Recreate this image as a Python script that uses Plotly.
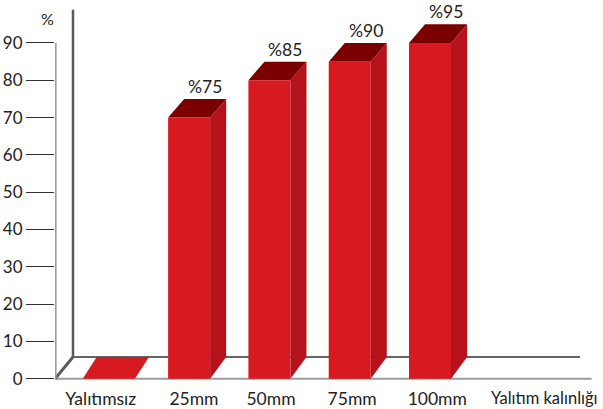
import plotly.graph_objects as go

# ---------------- data ----------------
categories = ["Yalıtımsız", "25mm", "50mm", "75mm", "100mm"]
values = [0, 75, 85, 90, 95]          # percentage shown on top of each bar
y_ticks = [0, 10, 20, 30, 40, 50, 60, 70, 80, 90]
x_title = "Yalıtım kalınlığı"
y_unit = "%"

# ---------------- style ----------------
FONT = "Lato"
TXT = "#222222"
FRONT = "#D71920"
SIDE = "#B5121B"
TOP = "#7A0000"
BAR_W = 0.523        # front face width (x units)
FLAT_W = 0.65        # width of a zero-height bar (flat slab)
DX = 0.2             # depth shift in x
DY = 5.0             # depth shift in y for bar tops
FLOOR_DX = 0.224     # depth of floor/back wall in x
FLOOR_DY = 5.85      # depth of floor in y
X0 = -0.67
X1 = 6.154
Y0 = -1.94
Y1 = 101.52
LABEL_SHIFT = [-0.1, 0.06, 0.02, 0.03, 0.09]

fig = go.Figure()

xs = list(range(len(categories)))
for i, v in zip(xs, values):
    if v <= 0:
        l, r = i - FLAT_W / 2, i + FLAT_W / 2
        fig.add_trace(go.Scatter(
            x=[l, r, r + FLOOR_DX * 0.78, l + FLOOR_DX * 0.78, l],
            y=[0, 0, FLOOR_DY, FLOOR_DY, 0],
            fill="toself", fillcolor=FRONT, mode="lines",
            line=dict(width=0, color=FRONT), hoverinfo="skip", showlegend=False))
        continue
    h = v - DY
    l, r = i - BAR_W / 2, i + BAR_W / 2
    # side face
    fig.add_trace(go.Scatter(
        x=[r, r + DX, r + DX, r, r],
        y=[0, FLOOR_DY, h + DY, h, 0],
        fill="toself", fillcolor=SIDE, mode="lines",
        line=dict(width=0, color=SIDE), hoverinfo="skip", showlegend=False))
    # top face
    fig.add_trace(go.Scatter(
        x=[l, r, r + DX, l + DX, l],
        y=[h, h, h + DY, h + DY, h],
        fill="toself", fillcolor=TOP, mode="lines",
        line=dict(width=0, color=TOP), hoverinfo="skip", showlegend=False))
    # front face
    fig.add_trace(go.Scatter(
        x=[l, r, r, l, l],
        y=[0, 0, h, h, 0],
        fill="toself", fillcolor=FRONT, mode="lines",
        line=dict(width=0, color=FRONT), hoverinfo="skip", showlegend=False))
    fig.add_annotation(x=i + DX, y=v, xref="x", yref="y", text="%" + str(v),
                       showarrow=False, yanchor="bottom", yshift=0,
                       font=dict(family=FONT, size=17.5, color=TXT))

# floor / walls (below traces)
shapes = [
    dict(type="line", xref="x", yref="y", x0=X0, y0=0, x1=6.013, y1=0,
         line=dict(color="#9d9d9d", width=2), layer="below"),
    dict(type="line", xref="x", yref="y", x0=X0 + FLOOR_DX, y0=FLOOR_DY, x1=5.868, y1=FLOOR_DY,
         line=dict(color="#666666", width=2), layer="below"),
    dict(type="line", xref="x", yref="y", x0=X0 + FLOOR_DX, y0=FLOOR_DY, x1=X0 + FLOOR_DX, y1=98.9,
         line=dict(color="#5a5a5a", width=2.5), layer="below"),
    dict(type="line", xref="x", yref="y", x0=X0, y0=0, x1=X0 + FLOOR_DX, y1=FLOOR_DY,
         line=dict(color="#5a5a5a", width=3), layer="below"),
    dict(type="line", xref="x", yref="y", x0=X0 + 0.008, y0=0, x1=X0 + 0.008, y1=max(y_ticks),
         line=dict(color="#9d9d9d", width=2), layer="below"),
]
fig.update_layout(shapes=shapes)

fig.add_annotation(x=0, y=Y1 - 5, xref="paper", yref="y", text=y_unit, showarrow=False,
                   xanchor="center", xshift=-8,
                   font=dict(family=FONT, size=16, color=TXT))
fig.add_annotation(x=1, y=0, xref="paper", yref="paper", text=x_title, showarrow=False,
                   xanchor="right", yanchor="top", yshift=0, xshift=-3,
                   font=dict(family=FONT, size=16.5, color=TXT))

fig.update_layout(
    width=603, height=409,
    margin=dict(l=55, r=0, t=0, b=20),
    paper_bgcolor="white", plot_bgcolor="white",
    font=dict(family=FONT, size=16, color=TXT),
    xaxis=dict(range=[X0, X1], showgrid=False, zeroline=False, showline=False,
               tickmode="array", tickvals=[i + s for i, s in zip(xs, LABEL_SHIFT)],
               ticktext=categories,
               ticks="", tickfont=dict(family=FONT, size=17.5, color=TXT)),
    yaxis=dict(range=[Y0, Y1], showgrid=False, zeroline=False, showline=False,
               tickmode="array", tickvals=y_ticks, ticktext=[str(t) for t in y_ticks],
               ticks="outside", ticklen=28, tickwidth=1, tickcolor="#333333",
               tickfont=dict(family=FONT, size=17, color=TXT)),
    showlegend=False,
)

fig.write_html("out.html")
